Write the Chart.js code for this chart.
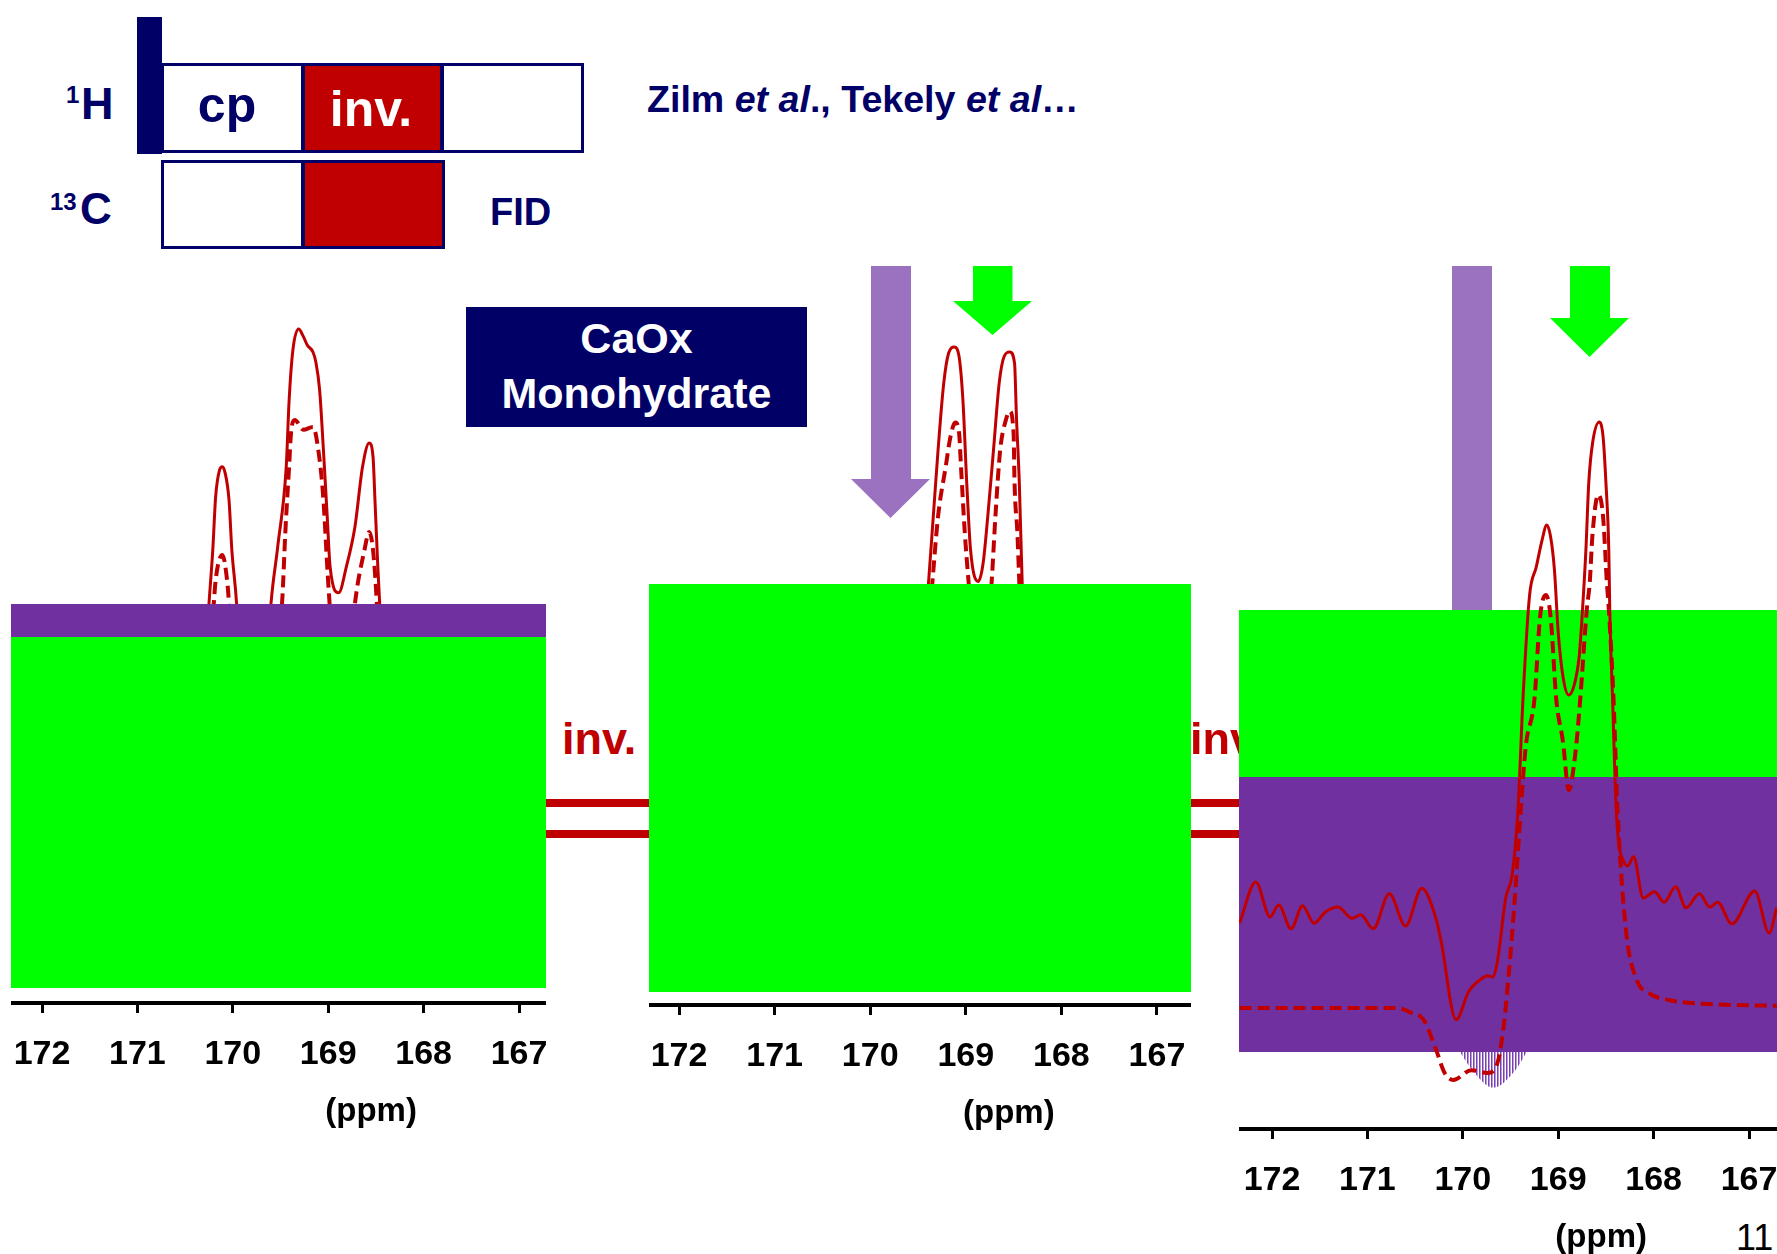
<!DOCTYPE html>
<html>
<head>
<meta charset="utf-8">
<script src="https://cdn.jsdelivr.net/npm/chart.js@4.4.1/dist/chart.umd.min.js"></script>
<style>
  body { margin: 0; }
  #slide { position: relative; width: 1777px; height: 1254px; background: #fff; overflow: hidden;
           font-family: "Liberation Sans", Arial, sans-serif; font-weight: bold; }
  .abs { position: absolute; }
  .txt { position: absolute; line-height: 1; white-space: nowrap; }
  .navy { color: #000066; }
</style>
</head>
<body>
<div id="slide">

  <!-- spectra behind the overlay boxes -->
  <div class="abs" style="left:11px;top:250px;width:535px;height:878px;z-index:1"><canvas id="c1"></canvas></div>
  <div class="abs" style="left:649px;top:250px;width:542px;height:880px;z-index:1"><canvas id="c2"></canvas></div>

  <!-- inv. arrows between panels -->
  <div class="txt" style="left:562px;top:716px;font-size:45px;color:#c00000;z-index:1">inv.</div>
  <div class="abs" style="left:546px;top:799px;width:103px;height:8px;background:#c00000;z-index:1"></div>
  <div class="abs" style="left:546px;top:830px;width:103px;height:8px;background:#c00000;z-index:1"></div>
  <div class="txt" style="left:1190px;top:716px;font-size:45px;color:#c00000;z-index:1">inv.</div>
  <div class="abs" style="left:1191px;top:799px;width:48px;height:8px;background:#c00000;z-index:1"></div>
  <div class="abs" style="left:1191px;top:830px;width:48px;height:8px;background:#c00000;z-index:1"></div>

  <!-- overlay boxes -->
  <div class="abs" style="left:11px;top:604px;width:535px;height:33px;background:#7030a0;z-index:2"></div>
  <div class="abs" style="left:11px;top:637px;width:535px;height:351px;background:#00ff00;z-index:2"></div>
  <div class="abs" style="left:649px;top:584px;width:542px;height:408px;background:#00ff00;z-index:2"></div>
  <div class="abs" style="left:1239px;top:610px;width:538px;height:167px;background:#00ff00;z-index:2"></div>
  <div class="abs" style="left:1239px;top:777px;width:538px;height:275px;background:#7030a0;z-index:2"></div>

  <!-- third spectrum sits on top of its boxes -->
  <div class="abs" style="left:1239px;top:250px;width:538px;height:1004px;z-index:3"><canvas id="c3"></canvas></div>

  <!-- arrows -->
  <div class="abs" style="left:851px;top:266px;width:79px;height:252px;background:#9b72bf;z-index:4;
       clip-path:polygon(20px 0,60px 0,60px 213px,79px 213px,39.5px 252px,0 213px,20px 213px)"></div>
  <div class="abs" style="left:953px;top:266px;width:79px;height:69px;background:#00ff00;z-index:4;
       clip-path:polygon(20px 0,59.5px 0,59.5px 35px,79px 35px,39.5px 69px,0 35px,20px 35px)"></div>
  <div class="abs" style="left:1452px;top:266px;width:40px;height:344px;background:#9b72bf;z-index:4"></div>
  <div class="abs" style="left:1550px;top:266px;width:79px;height:91px;background:#00ff00;z-index:4;
       clip-path:polygon(20px 0,60px 0,60px 52px,79px 52px,39.5px 91px,0 52px,20px 52px)"></div>

  <!-- CaOx label -->
  <div class="abs" style="left:466px;top:307px;width:341px;height:120px;background:#000066;z-index:4"></div>
  <div class="txt" style="left:466px;width:341px;text-align:center;top:317px;font-size:43px;color:#fff;z-index:5">CaOx</div>
  <div class="txt" style="left:466px;width:341px;text-align:center;top:372px;font-size:43px;color:#fff;z-index:5">Monohydrate</div>

  <!-- pulse sequence -->
  <div class="abs" style="left:137px;top:17px;width:25px;height:137px;background:#000066"></div>
  <div class="abs" style="left:161px;top:63px;width:423px;height:90px;border:3px solid #000066;box-sizing:border-box;background:#fff"></div>
  <div class="abs" style="left:301px;top:66px;width:143px;height:84px;border-left:4px solid #000066;border-right:4px solid #000066;box-sizing:border-box;background:#c00000"></div>
  <div class="abs" style="left:161px;top:160px;width:284px;height:89px;border:3px solid #000066;box-sizing:border-box;background:#fff"></div>
  <div class="abs" style="left:301px;top:163px;width:141px;height:83px;border-left:4px solid #000066;box-sizing:border-box;background:#c00000"></div>
  <div class="txt navy" style="left:227px;top:80px;font-size:50px;transform:translateX(-50%)">cp</div>
  <div class="txt" style="left:371px;top:84px;font-size:50px;color:#fff;transform:translateX(-50%)">inv.</div>
  <div class="txt navy" style="left:66px;top:83px;font-size:24px">1</div>
  <div class="txt navy" style="left:81px;top:81px;font-size:45px">H</div>
  <div class="txt navy" style="left:50px;top:190px;font-size:24px">13</div>
  <div class="txt navy" style="left:80px;top:187px;font-size:44px">C</div>
  <div class="txt navy" style="left:490px;top:193px;font-size:38px">FID</div>
  <div class="txt navy" style="left:647px;top:81px;font-size:37.6px">Zilm <i>et al</i>., Tekely <i>et al</i>…</div>

  <div class="txt" style="left:1736px;top:1220px;font-size:36px;font-weight:normal;color:#000">11</div>
</div>

<script>
// chemical shift (ppm) and intensity
const p1SolidPpm = [172.32, 170.6, 170.45, 170.33, 170.25, 170.21, 170.18, 170.14, 170.11, 170.08, 170.04, 170.01, 169.96, 169.88, 169.78, 169.68, 169.6, 169.53, 169.44, 169.41, 169.37, 169.31, 169.26, 169.22, 169.16, 169.13, 169.09, 169.05, 169.01, 168.98, 168.89, 168.81, 168.72, 168.64, 168.57, 168.53, 168.51, 168.48, 168.46, 168.38, 168.25, 168.0, 166.72];
const p1SolidInt = [3, 3, 10, 40, 57, 64.7, 72.3, 76.1, 76.6, 75.7, 71.9, 64.7, 57, 35, 25, 40, 57, 65.1, 76.6, 86, 93.3, 96.3, 95.2, 94, 93, 91.6, 87.6, 79, 69.4, 62.3, 58.6, 62.3, 68, 76.6, 80, 78, 71.9, 62.3, 57, 30, 8, 3, 3];
const p1DashPpm = [172.32, 170.6, 170.42, 170.28, 170.2, 170.18, 170.11, 170.06, 170.04, 169.96, 169.8, 169.62, 169.48, 169.45, 169.41, 169.39, 169.35, 169.26, 169.16, 169.09, 169.05, 169.01, 168.99, 168.9, 168.8, 168.72, 168.62, 168.57, 168.53, 168.49, 168.4, 168.25, 168.0, 166.72];
const p1DashInt = [3, 3, 12, 45, 57, 60.4, 64, 60.4, 57, 35, 20, 35, 58, 67.1, 76.6, 81.4, 83.3, 81.9, 82.3, 77.6, 71.9, 62.3, 58, 40, 45, 57, 64.7, 67.3, 64.7, 57, 28, 8, 3, 3];

const p2SolidPpm = [172.32, 170.1, 169.8, 169.55, 169.39, 169.34, 169.29, 169.23, 169.18, 169.12, 169.07, 169.03, 168.99, 168.95, 168.87, 168.82, 168.77, 168.71, 168.65, 168.6, 168.54, 168.49, 168.47, 168.44, 168.41, 168.3, 168.1, 167.8, 166.64];
const p2SolidInt = [3, 3, 8, 35, 60.3, 69.8, 79.3, 88.9, 93.1, 94, 92.6, 86.4, 74.6, 65, 60.5, 63, 69.8, 79.3, 88.9, 92.6, 93.3, 91.7, 84, 74.6, 60.3, 30, 6, 3, 3];
const p2DashPpm = [172.32, 170.0, 169.7, 169.5, 169.35, 169.29, 169.21, 169.16, 169.11, 169.07, 169.05, 169.01, 168.97, 168.85, 168.73, 168.69, 168.64, 168.58, 168.54, 168.5, 168.49, 168.46, 168.44, 168.35, 168.1, 167.8, 166.64];
const p2DashInt = [3, 3, 10, 35, 60.3, 69.8, 76.9, 81.2, 83.2, 81.7, 76.9, 67.4, 60.3, 40, 60.3, 69.8, 79.3, 83.6, 84.8, 81.7, 74.6, 67.4, 60.3, 30, 6, 3, 3];

const p3SolidPpm = [172.34, 172.17, 172.02, 171.93, 171.8, 171.68, 171.56, 171.44, 171.31, 171.16, 171.07, 170.94, 170.77, 170.6, 170.43, 170.28, 170.23, 170.07, 169.94, 169.81, 169.74, 169.69, 169.64, 169.55, 169.48, 169.42, 169.37, 169.3, 169.23, 169.17, 169.12, 169.08, 169.04, 169.0, 168.95, 168.89, 168.82, 168.78, 168.75, 168.71, 168.68, 168.64, 168.57, 168.53, 168.5, 168.47, 168.46, 168.43, 168.39, 168.31, 168.27, 168.21, 168.11, 167.99, 167.89, 167.77, 167.66, 167.52, 167.41, 167.33, 167.18, 166.94, 166.79, 166.71];
const p3SolidInt = [29.4, 35.3, 30.3, 32.0, 28.6, 31.9, 29.4, 31.0, 31.7, 30.1, 30.6, 28.6, 33.6, 29.0, 34.4, 30.0, 27.0, 15.6, 19.6, 21.4, 21.9, 21.7, 23.7, 33.0, 36.6, 46.1, 61.3, 76.3, 80.3, 84.1, 86.3, 84.6, 79.9, 70.9, 64.6, 62.0, 64.1, 67.5, 73.2, 82.7, 92.3, 98, 101, 98.9, 92.3, 82.7, 74.3, 61.3, 45, 38.1, 37.6, 38.9, 33.0, 33.9, 32.4, 34.6, 31.6, 33.6, 31.7, 32.4, 29.3, 34.0, 28.0, 31.6];
const p3DashPpm = [172.34, 170.69, 170.54, 170.41, 170.28, 170.19, 170.1, 169.91, 169.74, 169.64, 169.57, 169.52, 169.46, 169.39, 169.34, 169.25, 169.19, 169.13, 169.08, 169.02, 168.95, 168.89, 168.82, 168.77, 168.7, 168.67, 168.64, 168.58, 168.53, 168.49, 168.47, 168.42, 168.38, 168.29, 168.18, 168.05, 167.83, 167.5, 166.71];
const p3DashInt = [17.3, 17.3, 16.6, 15.6, 11.3, 8.0, 7.0, 8.4, 8.0, 9.3, 14.9, 21.9, 32.0, 46.1, 54.7, 61.3, 73.2, 76.3, 73.2, 61.3, 55.3, 48.4, 53.7, 61.3, 74.3, 78, 85.1, 90.6, 87.5, 78, 74.3, 61.3, 46.1, 28.4, 21.4, 19.4, 18.4, 17.9, 17.6];
// shaded negative lobe under the third spectrum
const p3ShadePpm = [170.03, 169.9, 169.68, 169.45, 169.33];
const p3ShadeInt = [11, 8.4, 5.9, 8.4, 11];

const tickValues = [172, 171, 170, 169, 168, 167];
const axisTitle = "(ppm)";
const titleAt = 168.55;
const shadeLevel = 11;

const RED = "#c00000";
Chart.defaults.font.family = '"Liberation Sans", Arial, sans-serif';

function pts(xs, ys) {
  return xs.map((x, i) => ({ x: x, y: ys[i] }));
}

function hatch() {
  const c = document.createElement("canvas");
  c.width = 3; c.height = 4;
  const g = c.getContext("2d");
  g.fillStyle = "#7a3fb0"; g.fillRect(0, 0, 1, 4);
  g.fillStyle = "#b69ad6"; g.fillRect(1, 0, 1, 4);
  return g.createPattern(c, "repeat");
}

const ppmTitle = {
  id: "ppmTitle",
  afterDraw(chart) {
    const sx = chart.scales.x;
    const ctx = chart.ctx;
    ctx.save();
    ctx.font = 'bold 33px "Liberation Sans", Arial, sans-serif';
    ctx.fillStyle = "#000";
    ctx.textAlign = "center";
    ctx.textBaseline = "middle";
    ctx.fillText(axisTitle, sx.getPixelForValue(titleAt), sx.top + 109);
    ctx.restore();
  }
};

function solid(data) {
  return { data: data, borderColor: RED, borderWidth: 3, pointRadius: 0, fill: false,
           cubicInterpolationMode: "monotone" };
}
function dashed(data) {
  return { data: data, borderColor: RED, borderWidth: 4, borderDash: [12, 6], pointRadius: 0, fill: false,
           cubicInterpolationMode: "monotone" };
}

function makeChart(id, datasets, xMin, xMax, yMax) {
  return new Chart(document.getElementById(id), {
    type: "line",
    data: { datasets: datasets },
    plugins: [ppmTitle],
    options: {
      responsive: true,
      maintainAspectRatio: false,
      animation: false,
      events: [],
      layout: { padding: 0 },
      plugins: { legend: { display: false }, tooltip: { enabled: false } },
      scales: {
        x: {
          type: "linear",
          reverse: true,
          min: xMin,
          max: xMax,
          afterFit(scale) { scale.height = 125; scale.paddingLeft = 0; scale.paddingRight = 0; },
          afterBuildTicks(scale) { scale.ticks = tickValues.map(v => ({ value: v })); },
          ticks: { stepSize: 1, includeBounds: false, autoSkip: false, maxRotation: 0, padding: 21,
                   color: "#000", font: { size: 34, weight: "bold" } },
          grid: { drawOnChartArea: false, drawTicks: true, tickLength: 10, tickWidth: 3, tickColor: "#000" },
          border: { display: true, color: "#000", width: 4 }
        },
        y: { display: false, min: 0, max: yMax }
      }
    }
  });
}

makeChart("c1", [solid(pts(p1SolidPpm, p1SolidInt)), dashed(pts(p1DashPpm, p1DashInt))],
          166.717, 172.325, 753 / 7);
makeChart("c2", [solid(pts(p2SolidPpm, p2SolidInt)), dashed(pts(p2DashPpm, p2DashInt))],
          166.644, 172.314, 755 / 7);
makeChart("c3", [
  solid(pts(p3SolidPpm, p3SolidInt)),
  dashed(pts(p3DashPpm, p3DashInt)),
  { data: pts(p3ShadePpm, p3ShadeInt), borderWidth: 0, borderColor: "rgba(0,0,0,0)", pointRadius: 0,
    backgroundColor: hatch(), fill: { value: shadeLevel }, cubicInterpolationMode: "monotone" }
], 166.707, 172.346, 879 / 7);
</script>
</body>
</html>
